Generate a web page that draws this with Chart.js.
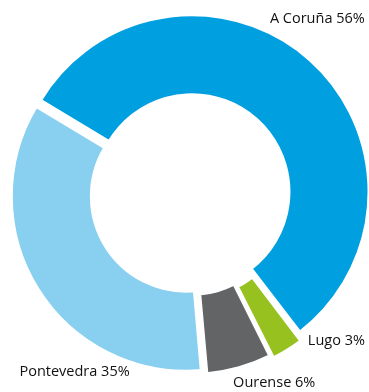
<!DOCTYPE html>
<html>
<head>
<meta charset="utf-8">
<script src="https://cdn.jsdelivr.net/npm/chart.js@4/dist/chart.umd.min.js"></script>
<style>
    html, body { margin: 0; padding: 0; background: #fff; }
    #wrap { width: 369px; height: 392px; }
</style>
</head>
<body>
<div id="wrap"><canvas id="provChart" width="369" height="392"></canvas></div>
<script>
// --- Data ---
const provinces = ['A Coruña', 'Lugo', 'Ourense', 'Pontevedra'];
const shares = [56, 3, 6, 35];

// --- Styles ---
const sliceColors = ['#009fe0', '#97c11f', '#636466', '#88cff0'];
const sliceOffsets = [12, 22, 16, 18];
// where each label sits: angle clockwise from top (deg) and distance as a multiple of the outer radius
const labelPlacement = [
    { angle: 36, dist: 1.245 },
    { angle: 135, dist: 1.19 },
    { angle: 156, dist: 1.19 },
    { angle: 213, dist: 1.218 }
];

const outsideLabels = {
    id: 'outsideLabels',
    afterDatasetsDraw(chart) {
        const ctx = chart.ctx;
        const arcs = chart.getDatasetMeta(0).data;
        ctx.save();
        ctx.font = '14.5px "Open Sans", sans-serif';
        ctx.fillStyle = '#111111';
        ctx.textAlign = 'center';
        ctx.textBaseline = 'middle';
        arcs.forEach((arc, i) => {
            const p = labelPlacement[i];
            const a = p.angle * Math.PI / 180;
            const r = arc.outerRadius * p.dist;
            const x = arc.x + Math.sin(a) * r;
            const y = arc.y - Math.cos(a) * r;
            ctx.fillText(provinces[i] + ' ' + shares[i] + '%', x, y);
        });
        ctx.restore();
    }
};

new Chart(document.getElementById('provChart').getContext('2d'), {
    type: 'doughnut',
    data: {
        labels: provinces,
        datasets: [{
            data: shares,
            backgroundColor: sliceColors,
            borderColor: '#ffffff',
            borderWidth: 3,
            offset: sliceOffsets,
            hoverOffset: 0
        }]
    },
    options: {
        responsive: false,
        animation: false,
        rotation: -59,
        cutout: '54%',
        radius: 174,
        layout: { padding: { left: 11, right: 0, top: 0, bottom: 4 } },
        plugins: {
            legend: { display: false },
            tooltip: { enabled: false }
        }
    },
    plugins: [outsideLabels]
});
</script>
</body>
</html>
